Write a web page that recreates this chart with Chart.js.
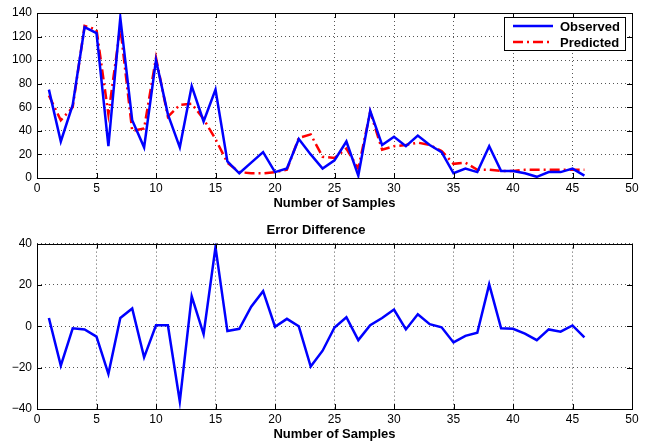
<!DOCTYPE html>
<html>
<head>
<meta charset="utf-8">
<script src="https://cdn.jsdelivr.net/npm/chart.js@4.4.1/dist/chart.umd.min.js"></script>
<style>
  body { margin: 0; background: #fff; }
  canvas { position: absolute; left: 0; }
  #top { top: 0; }
  #bottom { top: 214px; }
</style>
</head>
<body>
<canvas id="top" width="647" height="211"></canvas>
<canvas id="bottom" width="647" height="228"></canvas>
<script>
// sample numbers 1..46
const samples = [];
for (let i = 1; i <= 46; i++) samples.push(i);

const observed = [75, 31, 62, 128, 123, 27, 136, 49, 26, 100, 54, 26, 78, 48, 75, 14, 4, 13, 22, 5,
  8, 33, 20, 8, 15, 31, 2, 57, 28, 35, 27, 36, 28, 22, 4, 8, 5, 27, 6, 6,
  4, 1, 5, 5, 8, 2];
const predicted = [70, 49, 60, 129, 126, 54, 128, 40, 42, 102, 52, 62, 63, 50, 33, 13, 5, 4, 4, 5,
  7, 34, 37, 18, 17, 25, 8, 56, 24, 27, 28, 30, 28, 23, 12, 13, 7, 7, 6, 6,
  7, 7, 7, 7, 7, 7];
const errorDiff = [4, -19, -1, -1.5, -5, -23, 4, 8.6, -15, 0.5, 0.5, -36.4, 14.5, -3.8, 38.3, -2.3, -1.2, 9.5, 17, -0.2,
  3.6, 0, -19.5, -11.8, -0.6, 4.4, -6.7, 0.5, 4, 8.1, -1.5, 5.8, 1, -0.5, -7.8, -4.6, -3.1, 20.3, -1, -1.2,
  -3.5, -6.7, -1.5, -2.6, 0.4, -5.4];

const xTicks = { min: 0, max: 50, step: 5 };
const topTicks = { min: 0, max: 140, step: 20 };
const bottomTicks = { min: -40, max: 40, step: 20 };

const tickFont = { family: "Liberation Sans, Arial, sans-serif", size: 12 };
const boldFont = { family: "Liberation Sans, Arial, sans-serif", size: 13, weight: "bold" };

function pts(ys) {
  return ys.map((y, i) => ({ x: samples[i], y: y }));
}

// box around plot area with inward tick marks (matlab style)
const framePlugin = {
  id: "frame",
  afterDatasetsDraw(chart) {
    const a = chart.chartArea;
    const c = chart.ctx;
    c.save();
    c.strokeStyle = "#000";
    c.lineWidth = 1;
    c.beginPath();
    const xs = chart.scales.x, ys = chart.scales.y;
    xs.ticks.forEach((t) => {
      const px = Math.round(xs.getPixelForValue(t.value)) + 0.5;
      c.moveTo(px, a.bottom); c.lineTo(px, a.bottom - 5);
      c.moveTo(px, a.top); c.lineTo(px, a.top + 5);
    });
    ys.ticks.forEach((t) => {
      const py = Math.round(ys.getPixelForValue(t.value)) + 0.5;
      c.moveTo(a.left, py); c.lineTo(a.left + 5, py);
      c.moveTo(a.right, py); c.lineTo(a.right - 5, py);
    });
    c.stroke();
    c.strokeRect(Math.round(a.left) + 0.5, Math.round(a.top) + 0.5,
      Math.round(a.right - a.left), Math.round(a.bottom - a.top));
    c.restore();
  }
};

// legend box in the top right corner
const legendPlugin = {
  id: "boxLegend",
  afterDraw(chart, args, opts) {
    if (!opts.show) return;
    const c = chart.ctx;
    const a = chart.chartArea;
    const x0 = a.right - 128, y0 = a.top + 4, w = 121, h = 33;
    c.save();
    c.fillStyle = "#fff";
    c.fillRect(x0, y0, w, h);
    c.strokeStyle = "#000";
    c.lineWidth = 1;
    c.strokeRect(x0 + 0.5, y0 + 0.5, w, h);
    chart.data.datasets.forEach((ds, i) => {
      const y = y0 + 9 + i * 16;
      c.strokeStyle = ds.borderColor;
      c.lineWidth = ds.borderWidth;
      c.setLineDash(ds.borderDash || []);
      c.beginPath();
      c.moveTo(x0 + 9, y);
      c.lineTo(x0 + 49, y);
      c.stroke();
      c.setLineDash([]);
      c.fillStyle = "#000";
      c.font = "bold 13px Liberation Sans, Arial, sans-serif";
      c.textBaseline = "middle";
      c.fillText(ds.label, x0 + 56, y + 1);
    });
    c.restore();
  }
};

function makeOptions(yr, title, padTop, showLegend) {
  return {
    responsive: false,
    animation: false,
    devicePixelRatio: 1,
    layout: { padding: { left: 0, right: 15, top: padTop, bottom: 0 } },
    plugins: {
      legend: { display: false },
      tooltip: { enabled: false },
      title: title
        ? { display: true, text: title, color: "#000", font: boldFont, padding: { top: 9, bottom: 5 } }
        : { display: false },
      boxLegend: { show: showLegend }
    },
    scales: {
      x: {
        type: "linear",
        min: xTicks.min,
        max: xTicks.max,
        afterFit: (s) => { s.height = 33; },
        border: { display: false, dash: [1, 3] },
        grid: { color: "#555", drawTicks: false },
        ticks: { stepSize: xTicks.step, color: "#000", font: tickFont, padding: 3, maxRotation: 0 },
        title: { display: true, text: "Number of Samples", color: "#000", font: boldFont, padding: { top: 0, bottom: 0 } }
      },
      y: {
        min: yr.min,
        max: yr.max,
        afterFit: (s) => { s.width = 37; },
        border: { display: false, dash: [1, 3] },
        grid: { color: "#555", drawTicks: false },
        ticks: {
          stepSize: yr.step, color: "#000", font: tickFont, padding: 5,
          callback: (v) => String(v).replace("-", "\u2212")
        }
      }
    }
  };
}

new Chart(document.getElementById("top"), {
  type: "line",
  data: {
    datasets: [
      { label: "Observed", data: pts(observed), borderColor: "#0000ff", borderWidth: 2.5,
        pointRadius: 0, tension: 0, fill: false },
      { label: "Predicted", data: pts(predicted), borderColor: "#ff0000", borderWidth: 2.5,
        borderDash: [10, 4, 2, 4], pointRadius: 0, tension: 0, fill: false }
    ]
  },
  options: makeOptions(topTicks, null, 13, true),
  plugins: [framePlugin, legendPlugin]
});

new Chart(document.getElementById("bottom"), {
  type: "line",
  data: {
    datasets: [
      { label: "Error", data: pts(errorDiff), borderColor: "#0000ff", borderWidth: 2.5,
        pointRadius: 0, tension: 0, fill: false }
    ]
  },
  options: makeOptions(bottomTicks, "Error Difference", 0, false),
  plugins: [framePlugin, legendPlugin]
});
</script>
</body>
</html>
